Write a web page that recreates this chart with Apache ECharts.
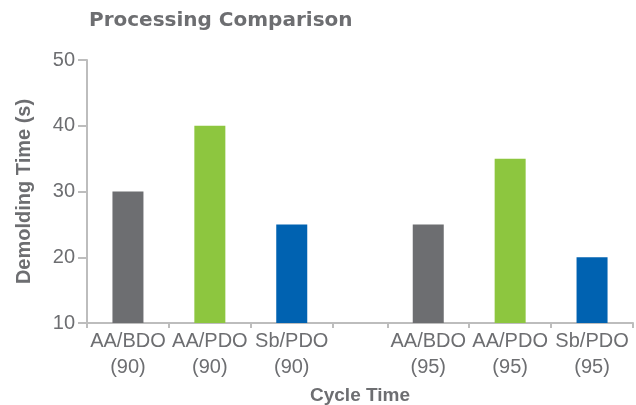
<!DOCTYPE html>
<html>
<head>
<meta charset="utf-8">
<script src="https://cdn.jsdelivr.net/npm/echarts@6/dist/echarts.min.js"></script>
<style>
  html, body { margin: 0; padding: 0; background: #ffffff; }
  #chart { width: 636px; height: 405px; }
</style>
</head>
<body>
<div id="chart"></div>
<script>
// Demolding time per catalyst / glycol system at two cycle-time settings
const categories = ['AA/BDO\n(90)', 'AA/PDO\n(90)', 'Sb/PDO\n(90)', '', 'AA/BDO\n(95)', 'AA/PDO\n(95)', 'Sb/PDO\n(95)'];
const demoldingTime = [30, 40, 25, null, 25, 35, 20];
const yTickValues = [10, 20, 30, 40, 50];

// Styling
const barColors = ['#6d6e71', '#8dc63f', '#0062b1', null, '#6d6e71', '#8dc63f', '#0062b1'];
const textGray = '#6d6e71';
const axisGray = '#bdbdbd';

// Each slot's width in half-steps of a fine category axis (spacer slot is narrower)
const slotSpans = [6, 6, 6, 4, 6, 6, 6];

let cursor = 0;
const boundaryIdx = [0];
const centerIdx = [];
slotSpans.forEach(span => {
  centerIdx.push(cursor + span / 2);
  cursor += span;
  boundaryIdx.push(cursor);
});
const pointCount = cursor + 1;
const boundarySet = new Set(boundaryIdx);
const centerSet = new Set(centerIdx);

const axisLabels = new Array(pointCount).fill('');
const barData = new Array(pointCount).fill(null);
centerIdx.forEach((idx, i) => {
  axisLabels[idx] = categories[i];
  if (demoldingTime[i] != null) {
    barData[idx] = { value: demoldingTime[i], itemStyle: { color: barColors[i] } };
  }
});

const chart = echarts.init(document.getElementById('chart'), null, { renderer: 'canvas' });
chart.setOption({
  animation: false,
  backgroundColor: '#ffffff',
  title: {
    text: 'Processing Comparison',
    left: 89,
    top: 11,
    padding: 0,
    textStyle: {
      fontFamily: 'DejaVu Sans',
      fontWeight: 'bold',
      fontSize: 20,
      color: textGray
    }
  },
  grid: { left: 87, right: 3, top: 60, bottom: 82, containLabel: false, outerBoundsMode: 'none' },
  xAxis: {
    type: 'category',
    boundaryGap: false,
    data: axisLabels,
    name: 'Cycle Time',
    nameLocation: 'middle',
    nameGap: 63,
    nameTextStyle: {
      fontFamily: 'Liberation Sans, Arial, sans-serif',
      fontWeight: 'bold',
      fontSize: 19,
      color: textGray
    },
    axisLine: { lineStyle: { color: axisGray, width: 2 } },
    axisTick: {
      interval: (i) => boundarySet.has(i),
      length: 5,
      lineStyle: { color: axisGray, width: 2 }
    },
    axisLabel: {
      interval: (i) => centerSet.has(i),
      margin: 5,
      fontFamily: 'Liberation Sans, Arial, sans-serif',
      fontSize: 20,
      lineHeight: 26,
      color: textGray
    },
    splitLine: { show: false }
  },
  yAxis: {
    type: 'value',
    min: yTickValues[0],
    max: yTickValues[yTickValues.length - 1],
    interval: yTickValues[1] - yTickValues[0],
    name: 'Demolding Time (s)',
    nameLocation: 'middle',
    nameRotate: 90,
    nameGap: 53,
    nameTextStyle: {
      fontFamily: 'Liberation Sans, Arial, sans-serif',
      fontWeight: 'bold',
      fontSize: 20,
      color: textGray
    },
    axisLine: { show: true, lineStyle: { color: axisGray, width: 2 } },
    axisTick: { show: true, length: 9, lineStyle: { color: axisGray, width: 2 } },
    axisLabel: {
      margin: 12,
      fontFamily: 'Liberation Sans, Arial, sans-serif',
      fontSize: 20,
      color: textGray
    },
    splitLine: { show: false }
  },
  series: [{
    type: 'bar',
    data: barData,
    barWidth: 31
  }]
});
</script>
</body>
</html>
